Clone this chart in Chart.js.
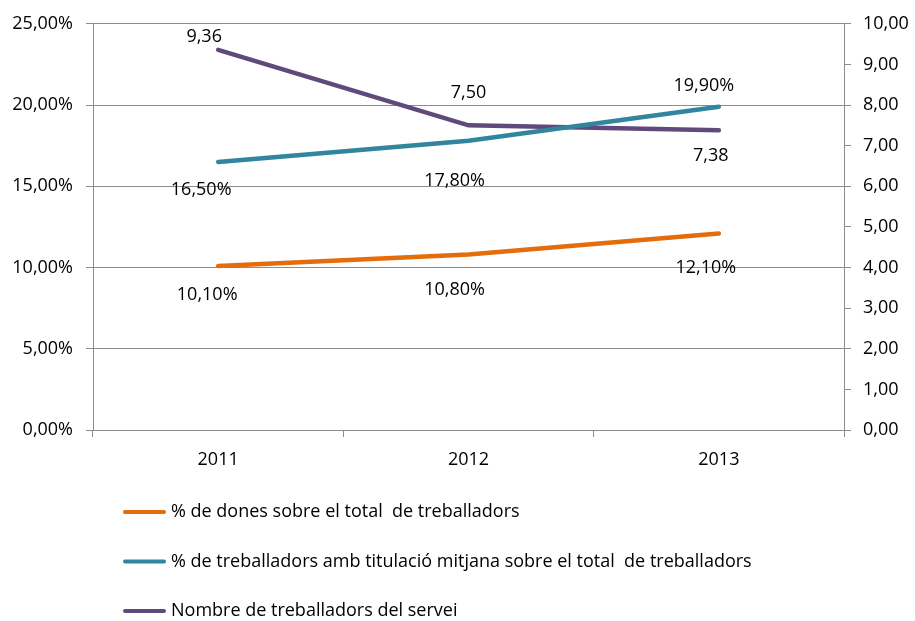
<!DOCTYPE html>
<html>
<head>
<meta charset="utf-8">
<script src="https://cdn.jsdelivr.net/npm/chart.js@4/dist/chart.umd.min.js"></script>
<style>
html,body{margin:0;padding:0;background:#fff;}
#wrap{width:915px;height:621px;position:relative;}
</style>
</head>
<body>
<div id="wrap"><canvas id="chart" width="915" height="621"></canvas></div>
<script>
// Dades
const years = ["2011", "2012", "2013"];
const pctDones = [0.101, 0.108, 0.121];
const pctTitulacio = [0.165, 0.178, 0.199];
const nombreTreballadors = [9.36, 7.50, 7.38];

const seriesNames = [
    "% de dones sobre el total  de treballadors",
    "% de treballadors amb titulació mitjana sobre el total  de treballadors",
    "Nombre de treballadors del servei"
];

// desplaçament de les etiquetes (px) respecte al punt
const labelDx = [[-11, -14, -13], [-17, -14, -15], [-14, 0, -8]];
const labelDy = [[29, 35, 34], [28, 40, -21], [-13, -32, 26]];

const FONT = "'Open Sans', sans-serif";
const FSIZE = 18;
const GRID = "#8c8c8c";

function fmt(v, dec){
    return v.toFixed(dec).replace(".", ",");
}

// Etiquetes de dades
const labelPlugin = {
    id: "labels",
    afterDatasetsDraw(chart){
        const c = chart.ctx;
        c.save();
        c.font = FSIZE + "px " + FONT;
        c.fillStyle = "#000";
        c.textAlign = "center";
        c.textBaseline = "middle";
        chart.data.datasets.forEach((ds, i)=>{
            const meta = chart.getDatasetMeta(i);
            meta.data.forEach((pt, j)=>{
                const v = ds.data[j];
                const txt = ds.yAxisID === "y1" ? fmt(v, 2) : fmt(v*100, 2) + "%";
                c.fillText(txt, pt.x + labelDx[i][j], pt.y + labelDy[i][j]);
            });
        });
        c.restore();
    }
};

// Llegenda vertical a sota
const legendPlugin = {
    id: "vlegend",
    afterDraw(chart){
        const c = chart.ctx;
        c.save();
        c.font = FSIZE + "px " + FONT;
        c.textBaseline = "middle";
        c.fillStyle = "#000";
        chart.data.datasets.forEach((ds, i)=>{
            const y = 512 + i*49.5;
            c.strokeStyle = ds.borderColor;
            c.lineWidth = 4;
            c.lineCap = "round";
            c.beginPath();
            c.moveTo(125, y);
            c.lineTo(164, y);
            c.stroke();
            c.fillText(ds.label, 171, y);
        });
        c.restore();
    }
};

const ctx = document.getElementById("chart");

new Chart(ctx, {
    type: "line",
    data: {
        labels: years,
        datasets: [
            {
                label: seriesNames[0],
                data: pctDones,
                borderColor: "#E46C0A",
                yAxisID: "y"
            },
            {
                label: seriesNames[1],
                data: pctTitulacio,
                borderColor: "#31859C",
                yAxisID: "y"
            },
            {
                label: seriesNames[2],
                data: nombreTreballadors,
                borderColor: "#604A7B",
                yAxisID: "y1"
            }
        ]
    },
    options: {
        responsive: false,
        animation: false,
        devicePixelRatio: 1,
        layout: {padding: {top: 20, bottom: 141, left: 0, right: 0}},
        elements: {
            line: {borderWidth: 4.5, tension: 0, borderCapStyle: "round", fill: false},
            point: {radius: 0, hoverRadius: 0}
        },
        plugins: {
            legend: {display: false},
            tooltip: {enabled: false}
        },
        scales: {
            x: {
                offset: true,
                grid: {offset: true, drawOnChartArea: false, drawTicks: true, tickLength: 7, color: GRID},
                border: {color: GRID, width: 1},
                ticks: {color: "#000", font: {family: FONT, size: FSIZE}, padding: 12},
                afterFit(s){ s.height = 50; }
            },
            y: {
                position: "left",
                min: 0,
                max: 0.25,
                grid: {color: GRID, tickLength: 7, drawTicks: true},
                border: {color: GRID, width: 1},
                ticks: {
                    stepSize: 0.05,
                    color: "#000",
                    font: {family: FONT, size: FSIZE},
                    padding: 13,
                    callback: v => fmt(v*100, 2) + "%"
                },
                afterFit(s){ s.width = 93; }
            },
            y1: {
                position: "right",
                min: 0,
                max: 10,
                grid: {drawOnChartArea: false, color: GRID, tickLength: 7, drawTicks: true},
                border: {color: GRID, width: 1},
                ticks: {
                    stepSize: 1,
                    color: "#000",
                    font: {family: FONT, size: FSIZE},
                    padding: 12,
                    callback: v => fmt(v, 2)
                },
                afterFit(s){ s.width = 71; }
            }
        }
    },
    plugins: [labelPlugin, legendPlugin]
});
</script>
</body>
</html>
